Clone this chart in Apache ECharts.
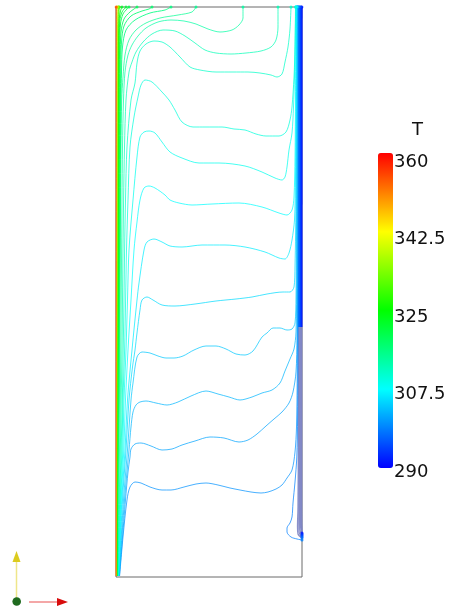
<!DOCTYPE html>
<html><head><meta charset="utf-8">
<script src="https://cdn.jsdelivr.net/npm/echarts@6/dist/echarts.min.js"></script>
<style>html,body{margin:0;padding:0;background:#fff}#c{width:456px;height:609px}</style>
</head><body><div id="c"></div>
<script>
// Cavity (mm): x across, y up
const cavityWidth = 186, cavityHeight = 570;
const tempMin = 290, tempMax = 360;
const colorbarTicks = [290, 307.5, 325, 342.5, 360];
const colorbarTitle = 'T';

// ---- isotherms (level in K, points [x, y] in mm) ----
// cold wall band
const iso29125 = [[186,44],[185.8,70],[185.8,250],[185.9,570]];
const iso2925 = [[186,43],[185.2,56],[185.2,250],[185.3,570]];
const iso29375 = [[186,42],[184.5,52],[184.4,120],[184.5,250],[184.6,570]];
const iso295 = [[186,41],[183.8,48],[183.6,80],[183.8,250],[183.9,570]];
const iso29625 = [[186,40],[183,45],[182.8,60],[183,150],[183.1,250],[183.2,570]];
const iso2975 = [[186,39],[182,43],[181.5,50],[182,70],[182.4,150],[182.5,250],[182.7,570]];
// core isotherms
const iso29875 = [[186,37],[181,38],[175,40],[171,45],[171,49],[174,54],[176,60],[177,74],[179,95],[180.8,120],[181.6,160],[182,250],[182.1,570]];
const iso300 = [[3.6,1],[7,40],[11,77],[14,90],[19,95],[25,94],[34,90],[46,87],[55,87],[68,90],[80,93],[90,94],[102,92],[114,89],[124,87],[135,85],[145,84],[152,85],[160,88],[166,92],[171,99],[176,107],[179,125],[180.5,150],[181.2,200],[181.6,300],[181.8,570]];
const iso30125 = [[3.4,1],[9.5,77],[12,105],[14,120],[15,128],[19,133],[25,134],[35,131],[46,127],[56,128],[66,132],[79,136],[94,140],[108,139],[123,135],[132,137],[141,143],[150,151],[158,158],[166,165],[173,174],[177,185],[180,205],[181,240],[181.3,350],[181.5,570]];
const iso3025 = [[3.2,1],[8.5,77],[13,127],[15,150],[17,165],[20,172],[24,175],[30,176],[40,174],[51,172],[62,175],[75,181],[90,186],[102,183],[113,180],[124,177],[136,180],[146,184],[156,187],[164,194],[169,206],[174,218],[178,228],[180,245],[180.8,300],[181,400],[181.2,570]];
const iso30375 = [[3,1],[7.5,77],[11.5,127],[15,177],[17,194],[21,220],[26,225],[34,224],[42,221],[50,219],[58,219],[67,221],[78,227],[90,231],[100,231],[110,228],[120,223],[129,222],[137,226],[146,240],[151,244],[157,249],[164,249],[171,247],[176,248],[179,254],[180,280],[180.5,350],[180.8,480],[180.9,570]];
const iso305 = [[2.8,1],[6.5,77],[10,127],[13,177],[16.5,210],[19,227],[21,244],[24,267],[26,277],[31,280],[37,277],[46,272],[59,271],[79,273],[100,276],[120,278],[136,280],[151,283],[167,285],[174,285],[178,290],[179,310],[180,380],[180.4,480],[180.6,570]];
const iso30625 = [[2.6,1],[5.8,77],[9,127],[11.5,177],[16,227],[21,277],[23,294],[28,327],[31,335],[38,338],[46,335],[54,331],[66,330],[86,332],[109,332],[129,330],[149,325],[163,319],[169,318],[173,324],[176,337],[178.5,357],[179.5,400],[180,480],[180.3,570]];
const iso3075 = [[2.4,1],[5.2,77],[7.8,127],[9.5,177],[12,227],[15,277],[18,327],[21,355],[24,377],[28,389],[33,391],[39,389],[49,382],[54,377],[63,374],[76,372],[96,373],[123,374],[146,370],[163,364],[171,362],[176,367],[178,380],[179,420],[179.5,480],[180,570]];
const iso30875 = [[2.2,1],[4.7,77],[6.8,127],[8,177],[10,227],[11.5,277],[13,327],[17,377],[21,420],[24,440],[28,445],[33,446],[39,444],[46,435],[54,425],[66,419],[83,414],[103,414],[129,411],[146,405],[159,399],[166,397],[169,400],[171,410],[173,427],[176,444],[177.5,470],[178.5,500],[179.2,540],[179.7,570]];
const iso310 = [[2,1],[4.2,77],[5.9,127],[7,177],[8.6,227],[9.6,277],[10.5,327],[12,377],[14,430],[18,460],[22,480],[25,492],[29,497],[36,495],[46,485],[53,477],[59,467],[66,455],[77,450],[90,450],[106,450],[118,448],[129,447],[140,443],[150,441],[163,441],[170,445],[174,457],[176,470],[178,500],[179,530],[179.5,570]];
const iso31125 = [[1.8,1],[3.7,77],[5.1,127],[6.3,177],[7.2,227],[8,277],[8.6,327],[9.5,377],[11,430],[15,477],[19,494],[21,514],[24,526],[30,533],[38,536],[46,535],[54,530],[64,520],[74,510],[84,507],[100,505],[117,505],[132,505],[144,504],[155,502],[161,500],[166,503],[169,515],[172,530],[174,548],[175,570]];
const iso3125 = [[1.6,1],[3.2,77],[4.3,127],[5.2,177],[6,227],[6.5,277],[7,327],[7.6,377],[8.5,430],[10,477],[13,505],[16,515],[20,525],[27,535],[36,543],[47,547],[59,546],[69,541],[79,534],[89,527],[100,524],[115,523],[130,524],[145,526],[155,530],[160,537],[162,550],[162,570]];
const iso31375 = [[1.4,1],[2.7,77],[3.5,127],[4.3,177],[4.8,227],[5.2,277],[5.6,327],[6,377],[6.5,430],[7.5,477],[9,505],[12,522],[16,532],[22,541],[30,549],[42,555],[55,557],[68,556],[80,553],[92,548],[104,545],[116,547],[123,552],[127,559],[127,570]];
const iso315 = [[1.2,1],[2.2,77],[2.8,127],[3.4,177],[3.7,227],[4,277],[4.3,327],[4.6,377],[5,430],[5.7,477],[7,500],[9,522],[13,537],[20,547],[30,554],[44,559],[62,562],[76,565],[80,570]];
// hot wall fan
const iso31625 = [[1.1,1],[1.8,77],[2.4,127],[3,177],[3.3,227],[3.6,277],[3.9,327],[4.2,377],[4.5,430],[5,477],[5.5,505],[6.5,530],[10,547],[19,557],[34,564],[49,567],[55,570]];
const iso3175 = [[1,1],[1.6,77],[2.1,127],[2.6,177],[2.9,227],[3.2,277],[3.5,327],[3.8,377],[4,430],[4.4,477],[4.8,510],[5.5,535],[8,551],[15,561],[26,566],[33,568],[36,570]];
const iso31875 = [[0.9,1],[1.4,77],[1.8,127],[2.2,177],[2.5,227],[2.8,277],[3.1,327],[3.3,377],[3.5,430],[3.8,477],[4.2,520],[5,545],[8,558],[14,565],[21,570]];
const iso320 = [[0.8,1],[1.2,77],[1.6,127],[1.9,177],[2.2,227],[2.5,277],[2.7,327],[2.9,377],[3.1,430],[3.3,477],[3.6,530],[4.5,553],[7,563],[11,568],[13,570]];
const iso32125 = [[0.7,1],[1,77],[1.3,127],[1.6,177],[1.9,227],[2.1,277],[2.3,327],[2.5,377],[2.7,430],[2.9,477],[3.1,530],[3.8,556],[6,565],[10,570]];
const iso3225 = [[0.6,1],[0.9,77],[1.1,127],[1.3,177],[1.6,227],[1.8,277],[2,327],[2.2,377],[2.3,430],[2.5,477],[2.7,530],[3.2,558],[4.5,566],[6,570]];
const iso32625 = [[0.5,1],[1.8,300],[2.5,540],[3.2,570]];
const iso330 = [[0.45,1],[1.5,300],[2,545],[2.6,570]];
const iso335 = [[0.4,1],[1.1,300],[1.5,550],[2,570]];
const iso345 = [[0.3,1],[0.6,300],[0.8,560],[1,570]];
const iso355 = [[0.1,1],[0.1,300],[0.2,570]];

const contourLevels = [291.25,292.5,293.75,295,296.25,297.5,298.75,300,301.25,302.5,303.75,305,306.25,307.5,308.75,310,311.25,312.5,313.75,315,316.25,317.5,318.75,320,321.25,322.5,326.25,330,335,345,355];
const contourPaths = [iso29125,iso2925,iso29375,iso295,iso29625,iso2975,iso29875,iso300,iso30125,iso3025,iso30375,iso305,iso30625,iso3075,iso30875,iso310,iso31125,iso3125,iso31375,iso315,iso31625,iso3175,iso31875,iso320,iso32125,iso3225,iso32625,iso330,iso335,iso345,iso355];

// ---- colour map (ParaView-like rainbow) ----
const rampColors = ['#0000ff','#00ffff','#00ff00','#ffff00','#ff0000'];
function tempColor(t){
  const f = Math.max(0, Math.min(1, (t - tempMin) / (tempMax - tempMin))) * (rampColors.length - 1);
  const i = Math.min(rampColors.length - 2, Math.floor(f)), u = f - i;
  const a = echarts.color.parse(rampColors[i]), b = echarts.color.parse(rampColors[i+1]);
  return 'rgb(' + [0,1,2].map(k => Math.round(a[k] + (b[k]-a[k])*u)).join(',') + ')';
}
const coldBandTop = 298, coreTop = 316, lowerBandY = 250;

const series = [];
contourPaths.forEach((pts, i) => {
  const lvl = contourLevels[i], col = tempColor(lvl);
  const base = { type: 'line', xAxisIndex: 0, yAxisIndex: 0, showSymbol: false, smooth: 0.3, silent: true, animation: false };
  if (lvl < coldBandTop) {
    // cold wall band: lower (washed) and upper (dense) part share the y = lowerBandY point
    const lower = pts.filter(p => p[1] <= lowerBandY);
    const upper = pts.filter(p => p[1] >= lowerBandY);
    series.push(Object.assign({}, base, { data: lower, lineStyle: { width: 1.3, color: '#7d84c4', opacity: 0.9 } }));
    series.push(Object.assign({}, base, { data: upper, lineStyle: { width: 1.4, color: col } }));
  } else {
    series.push(Object.assign({}, base, { data: pts, lineStyle: { width: 1, color: col, opacity: lvl < coreTop ? 0.72 : 0.85 } }));
  }
});
const ends = [];
contourPaths.forEach((pts, i) => {
  [pts[0], pts[pts.length-1]].forEach(p => {
    if (p[1] >= cavityHeight || p[0] >= cavityWidth) ends.push({ value: p, itemStyle: { color: tempColor(contourLevels[i]) } });
  });
});
series.push({ type: 'scatter', xAxisIndex: 0, yAxisIndex: 0, data: ends, symbolSize: 3, silent: true, animation: false, z: 3 });

const chart = echarts.init(document.getElementById('c'), null, { renderer: 'canvas' });
chart.setOption({
  backgroundColor: '#ffffff',
  animation: false,
  grid: [
    { left: 116, top: 7, width: cavityWidth, height: cavityHeight, show: true, borderColor: '#6a6a6a', borderWidth: 1, backgroundColor: 'transparent' },
    { left: 378, top: 162, width: 15, height: 310, show: false }
  ],
  xAxis: [
    { gridIndex: 0, type: 'value', min: 0, max: cavityWidth, show: false },
    { gridIndex: 1, type: 'value', show: false }
  ],
  yAxis: [
    { gridIndex: 0, type: 'value', min: 0, max: cavityHeight, show: false },
    { gridIndex: 1, type: 'category', data: colorbarTicks.map(String), boundaryGap: false, position: 'right',
      axisLine: { show: false }, axisTick: { show: false }, splitLine: { show: false },
      axisLabel: { interval: 0, margin: 1, color: '#111', fontSize: 18, fontFamily: 'DejaVu Sans' } }
  ],
  visualMap: {
    type: 'continuous', min: tempMin, max: tempMax, seriesIndex: [], orient: 'vertical',
    left: 378, top: 153, padding: 0, itemWidth: 15, itemHeight: 315, calculable: false, hoverLink: false,
    inRange: { color: rampColors }, textStyle: { color: 'transparent' }
  },
  graphic: [
    { type: 'text', left: 412, top: 121, style: { text: colorbarTitle, fontSize: 18, fontFamily: 'DejaVu Sans', fill: '#111' } },
    { type: 'line', shape: { x1: 16.5, y1: 598, x2: 16.5, y2: 560 }, style: { stroke: '#efe68a', lineWidth: 1.5 } },
    { type: 'polygon', shape: { points: [[12.5,562],[16.5,551],[20.5,562]] }, style: { fill: '#dccb1e' } },
    { type: 'line', shape: { x1: 29, y1: 602, x2: 58, y2: 602 }, style: { stroke: '#f08a8a', lineWidth: 1.5 } },
    { type: 'polygon', shape: { points: [[57,598],[68,602],[57,606]] }, style: { fill: '#d80c0c' } },
    { type: 'circle', shape: { cx: 16.7, cy: 601.5, r: 4.3 }, style: { fill: '#1f6b1f' } }
  ],
  series: series
});
</script></body></html>
